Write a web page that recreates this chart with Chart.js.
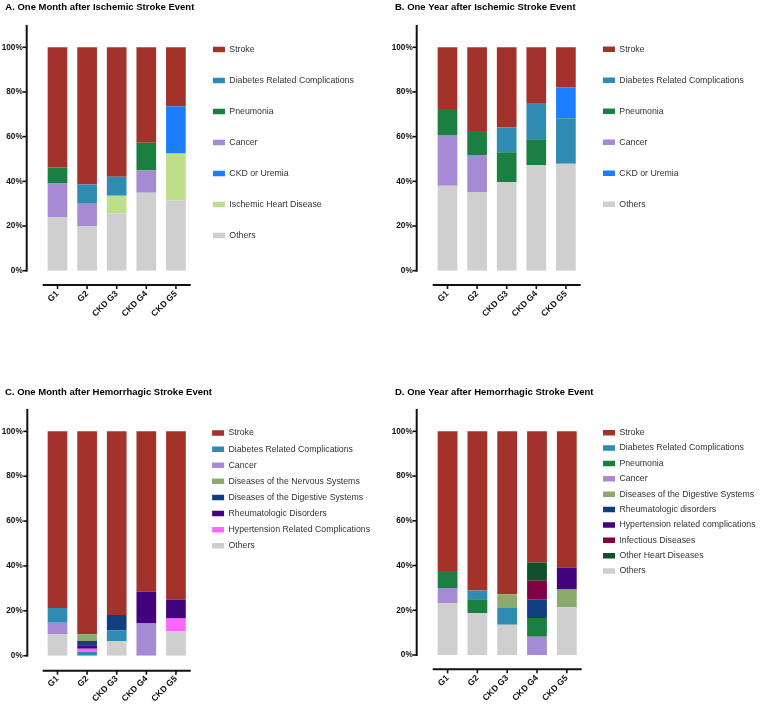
<!DOCTYPE html>
<html><head><meta charset="utf-8">
<script src="https://cdn.jsdelivr.net/npm/chart.js@4.4.1/dist/chart.umd.min.js"></script>
<style>
html,body{margin:0;padding:0;background:#fff;width:760px;height:704px;overflow:hidden}
canvas{position:absolute}
</style></head><body>
<canvas id="cA" width="380" height="384" style="left:0;top:0"></canvas>
<canvas id="cB" width="380" height="384" style="left:390px;top:0"></canvas>
<canvas id="cC" width="380" height="320" style="left:0;top:384px"></canvas>
<canvas id="cD" width="380" height="320" style="left:390px;top:384px"></canvas>
<script>
// ---------- data ----------
const categories = ['G1', 'G2', 'CKD G3', 'CKD G4', 'CKD G5'];
const yTicks = [0, 20, 40, 60, 80, 100];

// A. One Month after Ischemic Stroke Event (stack order bottom -> top)
const titleA = 'A. One Month after Ischemic Stroke Event';
const a_others    = [24.0, 20.0, 25.6, 34.9, 31.5];
const a_ihd       = [0, 0, 7.9, 0, 21.0];
const a_ckd       = [0, 0, 0, 0, 21.1];
const a_cancer    = [15.0, 10.0, 0, 9.9, 0];
const a_pneumonia = [7.2, 0, 0, 12.5, 0];
const a_diabetes  = [0, 8.6, 8.6, 0, 0];
const a_stroke    = [53.8, 61.4, 57.9, 42.7, 26.4];
const legendA = ['Stroke', 'Diabetes Related Complications', 'Pneumonia', 'Cancer', 'CKD or Uremia', 'Ischemic Heart Disease', 'Others'];

// B. One Year after Ischemic Stroke Event
const titleB = 'B. One Year after Ischemic Stroke Event';
const b_others    = [38.0, 35.0, 39.7, 47.3, 47.9];
const b_cancer    = [22.7, 16.8, 0, 0, 0];
const b_pneumonia = [11.7, 10.7, 13.3, 11.5, 0];
const b_diabetes  = [0, 0, 11.1, 15.9, 20.3];
const b_ckd       = [0, 0, 0, 0, 13.9];
const b_stroke    = [27.6, 37.5, 35.9, 25.3, 17.9];
const legendB = ['Stroke', 'Diabetes Related Complications', 'Pneumonia', 'Cancer', 'CKD or Uremia', 'Others'];

// C. One Month after Hemorrhagic Stroke Event
const titleC = 'C. One Month after Hemorrhagic Stroke Event';
const c_others       = [9.7, 0, 6.6, 0, 11.0];
const c_cancer       = [5.0, 0, 0, 14.3, 0];
const c_diabetes     = [6.6, 1.6, 4.7, 0, 0];
const c_hypertension = [0, 1.5, 0, 0, 5.6];
const c_rheum        = [0, 1.6, 0, 14.2, 8.4];
const c_digestive    = [0, 1.8, 6.8, 0, 0];
const c_nervous      = [0, 3.1, 0, 0, 0];
const c_stroke       = [78.7, 90.4, 81.9, 71.5, 75.0];
const legendC = ['Stroke', 'Diabetes Related Complications', 'Cancer', 'Diseases of the Nervous Systems', 'Diseases of the Digestive Systems', 'Rheumatologic Disorders', 'Hypertension Related Complications', 'Others'];

// D. One Year after Hemorrhagic Stroke Event
const titleD = 'D. One Year after Hemorrhagic Stroke Event';
const d_others       = [23.2, 18.8, 13.5, 0, 21.3];
const d_cancer       = [6.7, 0, 0, 8.2, 0];
const d_pneumonia    = [7.7, 6.1, 0, 8.3, 0];
const d_diabetes     = [0, 3.9, 7.5, 0, 0];
const d_digestive    = [0, 0, 6.2, 0, 8.0];
const d_rheum        = [0, 0, 0, 8.4, 0];
const d_infectious   = [0, 0, 0, 8.3, 0];
const d_otherHeart   = [0, 0, 0, 8.1, 0];
const d_hypertension = [0, 0, 0, 0, 9.8];
const d_stroke       = [62.4, 71.2, 72.8, 58.7, 60.9];
const legendD = ['Stroke', 'Diabetes Related Complications', 'Pneumonia', 'Cancer', 'Diseases of the Digestive Systems', 'Rheumatologic disorders', 'Hypertension related complications', 'Infectious Diseases', 'Other Heart Diseases', 'Others'];

// ---------- styles ----------
const COL = {
  stroke: '#A3322A', diabetes: '#2E8BB1', pneumonia: '#1B7F42', cancer: '#A68AD4',
  ckd: '#1A7EFF', ihd: '#BEDF8A', others: '#CFCFCF', olive: '#8CA96E',
  navy: '#103F80', purple: '#43037F', pink: '#FF66FF', maroon: '#820041', dkgreen: '#0F4F2B'
};
const FONT = "'Liberation Sans', Arial, Helvetica, sans-serif";

function ds(label, data, color) {
  return { label, data, backgroundColor: color, borderWidth: 0, barPercentage: 0.665, categoryPercentage: 1 };
}

// GraphPad-style offset axes, drawn from the chart's own scales
const axesPlugin = {
  id: 'gpAxes',
  beforeDraw(chart, args, o) {
    if (chart.titleBlock) chart.titleBlock.left = o.titleX;
  },
  afterDraw(chart, args, o) {
    const { ctx, chartArea } = chart;
    const xs = chart.scales.x, ys = chart.scales.y;
    const y0 = ys.getPixelForValue(0);
    const ax = chartArea.left - o.yGap;
    const ay = y0 + o.xGap;
    ctx.save();
    ctx.strokeStyle = '#111';
    ctx.lineWidth = 2;
    ctx.beginPath();
    ctx.moveTo(ax, chartArea.top);
    ctx.lineTo(ax, y0 + 1);
    ctx.stroke();
    ctx.beginPath();
    ctx.moveTo(chartArea.left, ay);
    ctx.lineTo(chartArea.right, ay);
    ctx.stroke();
    ctx.lineWidth = 1.6;
    ys.ticks.forEach(t => {
      const p = ys.getPixelForValue(t.value);
      ctx.beginPath(); ctx.moveTo(ax - 4, p); ctx.lineTo(ax, p); ctx.stroke();
    });
    xs.ticks.forEach((t, i) => {
      const p = xs.getPixelForTick(i);
      ctx.beginPath(); ctx.moveTo(p, ay); ctx.lineTo(p, ay + 4); ctx.stroke();
    });
    ctx.restore();
  }
};

function makeChart(id, p) {
  const order = p.legendOrder;
  const chart = new Chart(document.getElementById(id), {
    type: 'bar',
    data: { labels: categories, datasets: p.datasets },
    plugins: [axesPlugin],
    options: {
      responsive: false,
      animation: false,
      devicePixelRatio: 1,
      layout: { padding: { left: 1.2, right: 0, top: 0, bottom: 0 } },
      scales: {
        x: {
          type: 'category', stacked: true,
          grid: { display: false, drawTicks: false },
          border: { display: false },
          ticks: { autoSkip: false, minRotation: 45, maxRotation: 45, padding: p.xLabelPad, color: '#111',
                   font: { family: FONT, size: 8.6, weight: 'bold' } },
          afterFit: s => { s.height = p.xHeight; }
        },
        y: {
          type: 'linear', stacked: true, min: 0, max: 110,
          grid: { display: false, drawTicks: false },
          border: { display: false },
          afterBuildTicks: s => { s.ticks = yTicks.map(v => ({ value: v })); },
          ticks: { padding: p.yLabelPad, color: '#111', callback: v => v + '%',
                   font: { family: FONT, size: 8.2, weight: 'bold' } },
          afterFit: s => { s.width = p.plotLeft - 1.2; }
        },
        gap: {
          type: 'linear', position: 'right', display: true,
          grid: { display: false, drawTicks: false }, border: { display: false },
          ticks: { display: false },
          afterFit: s => { s.width = p.gap; }
        }
      },
      plugins: {
        tooltip: { enabled: false },
        gpAxes: { yGap: p.yGap, xGap: p.xGap, titleX: p.titleX },
        title: {
          display: true, text: p.title, align: 'start', color: '#000',
          font: { family: FONT, size: 9.5, weight: 'bold', lineHeight: 1.2 },
          padding: { top: 0, bottom: p.titlePadBottom }
        },
        legend: {
          position: 'right', align: 'start', maxWidth: 400,
          title: { display: true, text: '', font: { size: 1, lineHeight: 1 }, padding: { top: p.legendTop, bottom: 0 } },
          labels: {
            boxWidth: 12, boxHeight: 5.5, padding: p.legendPad, color: '#333',
            font: { family: FONT, size: 8.75 },
            sort: (a, b) => order.indexOf(a.text) - order.indexOf(b.text)
          }
        }
      }
    }
  });
  const d = chart.chartArea.right - p.targetRight;
  chart.options.layout.padding.right = Math.max(0, d);
  chart.update();
  return chart;
}

makeChart('cA', {
  title: titleA, legendOrder: legendA,
  datasets: [
    ds('Others', a_others, COL.others),
    ds('Ischemic Heart Disease', a_ihd, COL.ihd),
    ds('CKD or Uremia', a_ckd, COL.ckd),
    ds('Cancer', a_cancer, COL.cancer),
    ds('Pneumonia', a_pneumonia, COL.pneumonia),
    ds('Diabetes Related Complications', a_diabetes, COL.diabetes),
    ds('Stroke', a_stroke, COL.stroke)
  ],
  titleX: 5.3, plotLeft: 42.7, xHeight: 113.3, titlePadBottom: 11.6,
  targetRight: 190.7, gap: 0, legendPad: 22.25, legendTop: 21.9,
  yGap: 16, xGap: 14.3, xLabelPad: 18, yLabelPad: 20
});

makeChart('cB', {
  title: titleB, legendOrder: legendB,
  datasets: [
    ds('Others', b_others, COL.others),
    ds('Cancer', b_cancer, COL.cancer),
    ds('Pneumonia', b_pneumonia, COL.pneumonia),
    ds('Diabetes Related Complications', b_diabetes, COL.diabetes),
    ds('CKD or Uremia', b_ckd, COL.ckd),
    ds('Stroke', b_stroke, COL.stroke)
  ],
  titleX: 5, plotLeft: 42.7, xHeight: 113.3, titlePadBottom: 11.6,
  targetRight: 190.7, gap: 0, legendPad: 22.25, legendTop: 21.7,
  yGap: 16, xGap: 14.3, xLabelPad: 18, yLabelPad: 20
});

makeChart('cC', {
  title: titleC, legendOrder: legendC,
  datasets: [
    ds('Others', c_others, COL.others),
    ds('Cancer', c_cancer, COL.cancer),
    ds('Diabetes Related Complications', c_diabetes, COL.diabetes),
    ds('Hypertension Related Complications', c_hypertension, COL.pink),
    ds('Rheumatologic Disorders', c_rheum, COL.purple),
    ds('Diseases of the Digestive Systems', c_digestive, COL.navy),
    ds('Diseases of the Nervous Systems', c_nervous, COL.olive),
    ds('Stroke', c_stroke, COL.stroke)
  ],
  titleX: 5, plotLeft: 42.7, xHeight: 48.3, titlePadBottom: 10.6,
  targetRight: 191.7, gap: 14, legendPad: 7.35, legendTop: 36.3,
  yGap: 15.4, xGap: 15, xLabelPad: 18, yLabelPad: 20
});

makeChart('cD', {
  title: titleD, legendOrder: legendD,
  datasets: [
    ds('Others', d_others, COL.others),
    ds('Cancer', d_cancer, COL.cancer),
    ds('Pneumonia', d_pneumonia, COL.pneumonia),
    ds('Diabetes Related Complications', d_diabetes, COL.diabetes),
    ds('Diseases of the Digestive Systems', d_digestive, COL.olive),
    ds('Rheumatologic disorders', d_rheum, COL.navy),
    ds('Infectious Diseases', d_infectious, COL.maroon),
    ds('Other Heart Diseases', d_otherHeart, COL.dkgreen),
    ds('Hypertension related complications', d_hypertension, COL.purple),
    ds('Stroke', d_stroke, COL.stroke)
  ],
  titleX: 5, plotLeft: 42.7, xHeight: 49, titlePadBottom: 10.6,
  targetRight: 191.7, gap: 14.7, legendPad: 6.62, legendTop: 36.7,
  yGap: 16, xGap: 14.3, xLabelPad: 18, yLabelPad: 20
});
</script>
</body></html>
